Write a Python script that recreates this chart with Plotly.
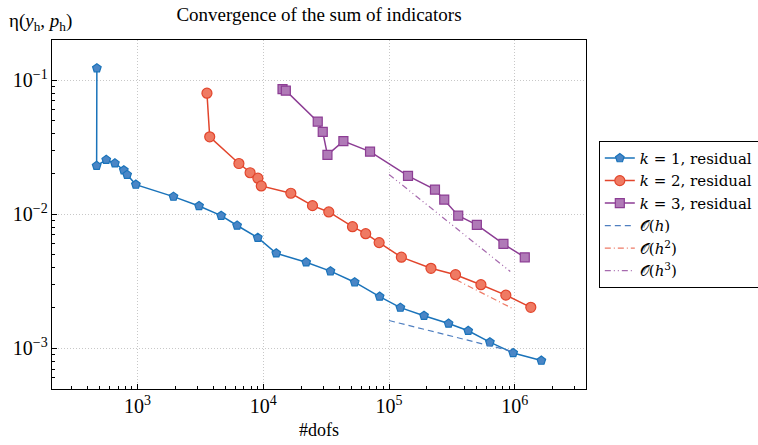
import plotly.graph_objects as go

# k = 1
dofs_k1 = [475, 473, 564, 661, 778, 827, 970, 1931, 3084, 4625, 6194, 9040, 12680,
           21930, 34200, 53300, 84200, 123000, 189700, 297400, 425900, 633400,
           970000, 1625000]
eta_k1 = [0.123, 0.0230, 0.0255, 0.0240, 0.0213, 0.0197, 0.01664, 0.01353, 0.01153,
          0.00976, 0.00824, 0.00668, 0.00511, 0.00438, 0.00376, 0.00311, 0.00243,
          0.00201, 0.00175, 0.00153, 0.00135, 0.00111, 0.000922, 0.000809]

# k = 2
dofs_k2 = [3565, 3750, 6400, 7855, 9060, 9640, 16560, 24620, 33180, 51200, 65200,
           83400, 125300, 215400, 337700, 537600, 848600, 1340000]
eta_k2 = [0.0800, 0.0378, 0.0239, 0.0204, 0.01857, 0.01626, 0.01434, 0.01159, 0.01040,
          0.00807, 0.00716, 0.00614, 0.00478, 0.00395, 0.00354, 0.00298, 0.00249, 0.00202]

# k = 3
dofs_k3 = [14220, 15110, 27100, 29700, 32370, 43350, 70600, 141500, 231800, 274700,
           354800, 499000, 812000, 1200000]
eta_k3 = [0.0858, 0.0835, 0.0491, 0.0411, 0.0277, 0.0351, 0.0293, 0.0193, 0.01527,
          0.01286, 0.00976, 0.00832, 0.00600, 0.00477]

# reference slopes
ref1_x = [1.0e5, 9.7e5]
ref1_y = [0.00161, 0.000945]
ref2_x = [3.42e5, 9.9e5]
ref2_y = [0.00324, 0.00195]
ref3_x = [1.0e5, 9.2e5]
ref3_y = [0.0198, 0.00374]

X_RANGE = [2.32, 6.566]
Y_RANGE = [-3.304, -0.70]

BLUE = "#1a73ba"
BLUE_F = "#4a86c6"
RED = "#e2452c"
RED_F = "#ef7a63"
PUR = "#8c3d94"
PUR_F = "#b07ab7"

FONT = "Liberation Serif"
LFONT = "DejaVu Serif"

fig = go.Figure()
fig.add_trace(go.Scatter(x=dofs_k1, y=eta_k1, mode="lines+markers",
                         name="<i>k</i> = 1, residual",
                         line=dict(color=BLUE, width=1.5),
                         marker=dict(symbol="pentagon", size=9, color=BLUE_F,
                                     line=dict(color=BLUE, width=1.2))))
fig.add_trace(go.Scatter(x=dofs_k2, y=eta_k2, mode="lines+markers",
                         name="<i>k</i> = 2, residual",
                         line=dict(color=RED, width=1.5),
                         marker=dict(symbol="circle", size=10, color=RED_F,
                                     line=dict(color=RED, width=1.2))))
fig.add_trace(go.Scatter(x=dofs_k3, y=eta_k3, mode="lines+markers",
                         name="<i>k</i> = 3, residual",
                         line=dict(color=PUR, width=1.5),
                         marker=dict(symbol="square", size=9, color=PUR_F,
                                     line=dict(color=PUR, width=1.2))))
fig.add_trace(go.Scatter(x=ref1_x, y=ref1_y, mode="lines", name="𝒪(<i>h</i>)",
                         line=dict(color="#4f7fc0", width=1.2, dash="6px,4px")))
fig.add_trace(go.Scatter(x=ref2_x, y=ref2_y, mode="lines", name="𝒪(<i>h</i><sup>2</sup>)",
                         line=dict(color="#ee7a66", width=1.2, dash="6px,3px,1px,3px")))
fig.add_trace(go.Scatter(x=ref3_x, y=ref3_y, mode="lines", name="𝒪(<i>h</i><sup>3</sup>)",
                         line=dict(color="#a66aae", width=1.2,
                                   dash="6px,3px,1px,3px,1px,3px")))

tick_common = dict(
    type="log", dtick=1, exponentformat="power", showexponent="all",
    ticks="inside", ticklen=5, tickcolor="black", tickwidth=1,
    zeroline=False,
    minor=dict(ticks="inside", ticklen=3, tickcolor="black", dtick="D1",
               showgrid=False),
)

main_axis = dict(
    tick_common,
    showline=True, linecolor="black", linewidth=1.2, mirror=True,
    showgrid=True, gridcolor="#c8c8c8", griddash="1px,2px", gridwidth=1,
    tickfont=dict(family=FONT, size=16, color="black"),
)

mirror_axis = dict(
    tick_common,
    showline=False, showgrid=False, showticklabels=False,
)

fig.update_layout(
    width=758, height=445,
    margin=dict(l=52, r=172, t=40, b=56, autoexpand=False),
    paper_bgcolor="white", plot_bgcolor="white",
    font=dict(family=FONT, size=15, color="black"),
    title=dict(text="Convergence of the sum of indicators", x=(52 + 586) / 2 / 758,
               xanchor="center", y=1 - 14 / 445, yanchor="middle",
               font=dict(family=FONT, size=19, color="black")),
    xaxis=dict(main_axis, range=X_RANGE,
               title=dict(text="#dofs", font=dict(family=FONT, size=18), standoff=7)),
    yaxis=dict(main_axis, range=Y_RANGE),
    xaxis2=dict(mirror_axis, range=X_RANGE, overlaying="x", side="top", anchor="y"),
    yaxis2=dict(mirror_axis, range=Y_RANGE, overlaying="y", side="right", anchor="x"),
    legend=dict(x=1.024, xanchor="left", y=0.711, yanchor="top",
                bordercolor="black", borderwidth=1, bgcolor="white",
                font=dict(family=LFONT, size=15, color="black"),
                tracegroupgap=0),
    showlegend=True,
)

fig.add_annotation(text="η(<i>y</i><sub>h</sub>, <i>p</i><sub>h</sub>)",
                   xref="paper", yref="paper", x=-52 / 534 + 7 / 534, y=1 + 18 / 349,
                   xanchor="left", yanchor="middle", showarrow=False,
                   font=dict(family=FONT, size=19, color="black"))

fig.write_html("out.html")
